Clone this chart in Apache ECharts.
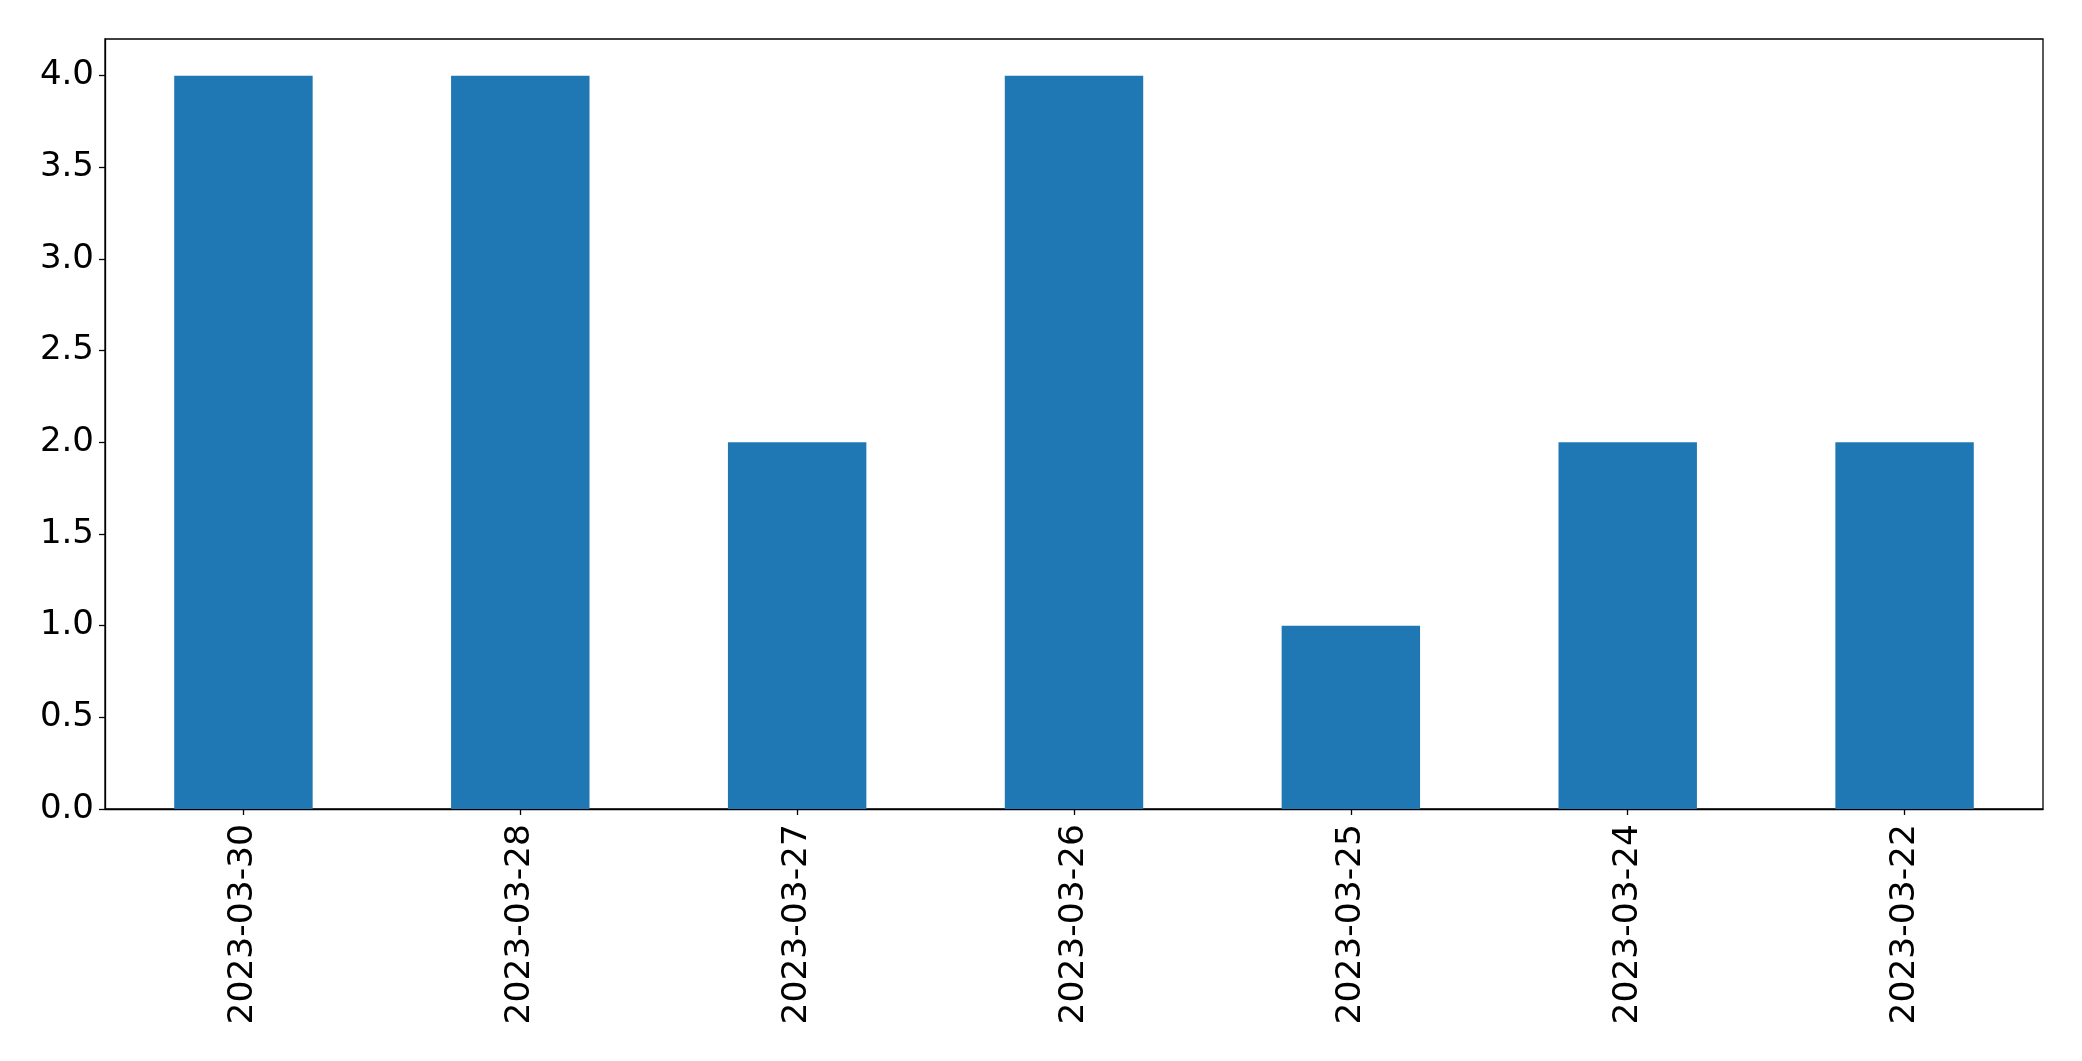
<!DOCTYPE html>
<html>
<head>
<meta charset="utf-8">
<script src="https://cdn.jsdelivr.net/npm/echarts@6/dist/echarts.min.js"></script>
<style>
html,body{margin:0;padding:0;background:#fff;}
#chart{width:2082px;height:1061px;}
</style>
</head>
<body>
<div id="chart"></div>
<script>
const categories = ["2023-03-30","2023-03-28","2023-03-27","2023-03-26","2023-03-25","2023-03-24","2023-03-22"];
const values = [4, 4, 2, 4, 1, 2, 2];
const yTicks = [0, 0.5, 1, 1.5, 2, 2.5, 3, 3.5, 4];

const chart = echarts.init(document.getElementById('chart'), null, {renderer: 'canvas'});
const font = 'DejaVu Sans';
chart.setOption({
  animation: false,
  backgroundColor: '#fff',
  grid: {
    left: 105, right: 39, top: 39, bottom: 252,
    show: true, borderColor: '#000', borderWidth: 1.3, backgroundColor: 'transparent'
  },
  xAxis: {
    type: 'category',
    data: categories,
    boundaryGap: true,
    axisLine: {show: true, lineStyle: {color: '#000', width: 1.3}},
    axisTick: {show: true, alignWithLabel: true, length: 6, lineStyle: {color: '#000', width: 1.3}},
    axisLabel: {rotate: 90, margin: 15, fontFamily: font, fontSize: 34.5, color: '#000'},
    splitLine: {show: false}
  },
  yAxis: {
    type: 'value',
    min: 0, max: 4.2, interval: 0.5,
    axisLine: {show: true, lineStyle: {color: '#000', width: 1.3}},
    axisTick: {show: true, length: 6, lineStyle: {color: '#000', width: 1.3}},
    axisLabel: {
      fontFamily: font, fontSize: 34, color: '#000', margin: 11,
      showMaxLabel: false,
      formatter: v => yTicks.some(t => Math.abs(t - v) < 1e-9) ? v.toFixed(1) : ''
    },
    splitLine: {show: false}
  },
  series: [{
    type: 'bar',
    data: values,
    barWidth: '50%',
    itemStyle: {color: '#1f77b4'}
  }]
});
</script>
</body>
</html>
